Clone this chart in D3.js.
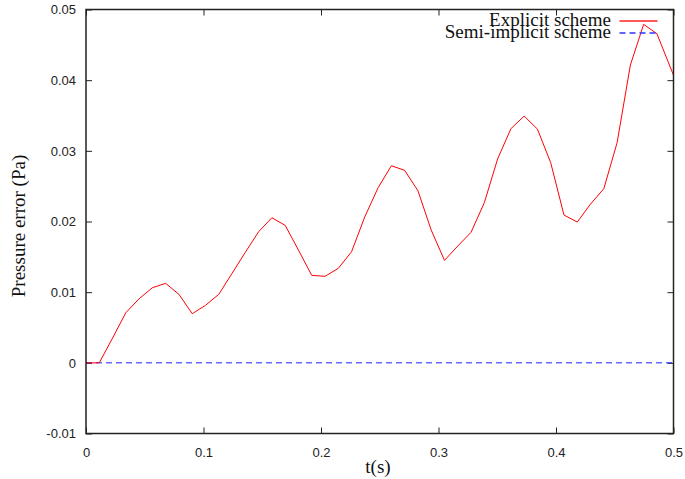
<!DOCTYPE html>
<html>
<head>
<meta charset="utf-8">
<script src="https://cdn.jsdelivr.net/npm/d3@7"></script>
<style>
  html, body { margin: 0; padding: 0; background: #fff; }
  svg { display: block; }
</style>
</head>
<body>
<svg id="chart" width="685" height="479"></svg>
<script>
// ---- data ----
const times = [0, 0.0113, 0.0226, 0.0339, 0.0452, 0.0565, 0.0678, 0.0791, 0.0904, 0.1017,
  0.113, 0.1243, 0.1356, 0.1469, 0.1582, 0.1695, 0.1808, 0.1921, 0.2034, 0.2147,
  0.226, 0.2373, 0.2486, 0.2599, 0.2712, 0.2825, 0.2938, 0.3051, 0.3164, 0.3277,
  0.339, 0.3503, 0.3616, 0.3729, 0.3842, 0.3955, 0.4068, 0.4181, 0.4294, 0.4407,
  0.452, 0.4633, 0.4746, 0.4859, 0.5];
const explicitErr = [0, 0, 0.0035, 0.00709, 0.00907, 0.01063, 0.01125, 0.00969, 0.00695, 0.00814,
  0.00969, 0.01266, 0.01564, 0.01855, 0.02053, 0.01946, 0.01596, 0.01238, 0.01224, 0.01337,
  0.01572, 0.02067, 0.02478, 0.02789, 0.02724, 0.02435, 0.01879, 0.0145, 0.01653, 0.01847,
  0.02266, 0.02884, 0.03313, 0.03492, 0.03308, 0.02832, 0.02091, 0.01992, 0.02247, 0.02464,
  0.03115, 0.04214, 0.0479, 0.04657, 0.0407];
const semiTimes = [0, 0.5];
const semiImplicitErr = [0, 0];
const xTicks = [0, 0.1, 0.2, 0.3, 0.4, 0.5];
const xTickLabels = ["0", "0.1", "0.2", "0.3", "0.4", "0.5"];
const yTicks = [-0.01, 0, 0.01, 0.02, 0.03, 0.04, 0.05];
const yTickLabels = ["-0.01", "0", "0.01", "0.02", "0.03", "0.04", "0.05"];
const seriesNames = ["Explicit scheme", "Semi-implicit scheme"];
const xLabel = "t(s)";
const yLabel = "Pressure error (Pa)";

// ---- layout ----
const L = 86, R = 673.5, T = 9.5, B = 433.5;
const svg = d3.select("#chart");
const x = d3.scaleLinear().domain([0, 0.5]).range([L, R]);
const y = d3.scaleLinear().domain([-0.01, 0.05]).range([B, T]);

const sans = "'Liberation Sans', Arial, Helvetica, sans-serif";
const serif = "'Liberation Serif', 'Times New Roman', serif";
const axisColor = "#222";

// clip
svg.append("defs").append("clipPath").attr("id", "clip")
  .append("rect").attr("x", L).attr("y", T).attr("width", R - L).attr("height", B - T);

// axes (inward ticks, mirrored)
function styleAxis(g) {
  g.select(".domain").remove();
  g.selectAll(".tick line").attr("stroke", axisColor).attr("stroke-width", 1);
  g.selectAll(".tick text").attr("fill", "#222").style("font-family", sans).style("font-size", "13px");
}
const xi = d => xTickLabels[xTicks.indexOf(d)];
const yi = d => yTickLabels[yTicks.indexOf(d)];

svg.append("g").attr("transform", `translate(0,${B})`)
  .call(d3.axisBottom(x).tickValues(xTicks).tickFormat(xi).tickSizeInner(-6).tickSizeOuter(0).tickPadding(14))
  .call(styleAxis);
svg.append("g").attr("transform", `translate(0,${T})`)
  .call(d3.axisTop(x).tickValues(xTicks).tickFormat("").tickSizeInner(-6).tickSizeOuter(0))
  .call(styleAxis);
svg.append("g").attr("transform", `translate(${L},0)`)
  .call(d3.axisLeft(y).tickValues(yTicks).tickFormat(yi).tickSizeInner(-6).tickSizeOuter(0).tickPadding(10))
  .call(styleAxis);
svg.append("g").attr("transform", `translate(${R},0)`)
  .call(d3.axisRight(y).tickValues(yTicks).tickFormat("").tickSizeInner(-6).tickSizeOuter(0))
  .call(styleAxis);

// series
const plot = svg.append("g").attr("clip-path", "url(#clip)");
const line = d3.line().x(d => x(d[0])).y(d => y(d[1]));
plot.append("path")
  .datum(semiTimes.map((t, i) => [t, semiImplicitErr[i]]))
  .attr("d", line).attr("fill", "none").attr("stroke", "#2020ff").attr("stroke-width", 1)
  .attr("stroke-dasharray", "6,4");
plot.append("path")
  .datum(times.map((t, i) => [t, explicitErr[i]]))
  .attr("d", line).attr("fill", "none").attr("stroke", "#ff0000").attr("stroke-width", 1);

// frame
svg.append("rect").attr("x", L).attr("y", T).attr("width", R - L).attr("height", B - T)
  .attr("fill", "none").attr("stroke", axisColor).attr("stroke-width", 1.5);

// axis labels
svg.append("text").attr("x", 378).attr("y", 473).attr("text-anchor", "middle")
  .style("font-family", serif).style("font-size", "19px").attr("fill", "#111").text(xLabel);
svg.append("text").attr("transform", "translate(25,226) rotate(-90)").attr("text-anchor", "middle")
  .style("font-family", serif).style("font-size", "19px").attr("fill", "#111").text(yLabel);

// legend
const legY = [26, 38];
const legColors = ["#ff2020", "#3030ff"];
const legDash = ["none", "6,4"];
seriesNames.forEach((name, i) => {
  svg.append("text").attr("x", 611).attr("y", legY[i]).attr("text-anchor", "end")
    .style("font-family", serif).style("font-size", "19px").attr("fill", "#111").text(name);
  svg.append("line").attr("x1", 619.5).attr("x2", 657.5)
    .attr("y1", legY[i] - 5).attr("y2", legY[i] - 5)
    .style("stroke", legColors[i]).style("stroke-width", "1.4px")
    .style("stroke-dasharray", legDash[i]);
});
</script>
</body>
</html>
